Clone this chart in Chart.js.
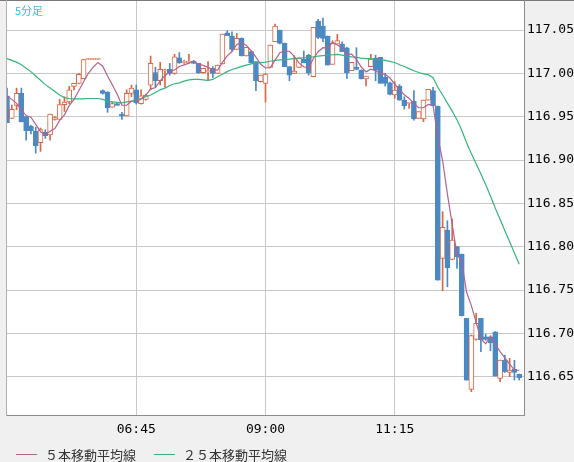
<!DOCTYPE html>
<html lang="ja">
<head>
<meta charset="utf-8">
<title>5分足</title>
<script src="https://cdn.jsdelivr.net/npm/chart.js@4.4.1/dist/chart.umd.min.js"></script>
<style>
html, body { margin: 0; padding: 0; background: #f0f0f0; }
#wrap { position: relative; width: 574px; height: 462px; overflow: hidden; }
#chartBox { position: absolute; left: 0; top: 0; width: 574px; height: 462px; }
#title { position: absolute; left: 15px; top: 2px; font: 11px "Noto Sans CJK JP"; color: #3fb6ef; }
#legend { position: absolute; left: 16px; top: 446px; height: 16px; display: flex; align-items: center;
          font: 13px "Noto Sans CJK JP"; color: #333; }
.item { display: flex; align-items: center; margin-right: 18px; }
.swatch { width: 21px; height: 1px; margin-right: 8px; }
</style>
</head>
<body>
<div id="wrap">
  <div id="chartBox"><canvas id="candleChart"></canvas></div>
  <div id="title">5分足</div>
  <div id="legend"></div>
</div>
<script>
// 5-minute bars, 04:30 .. 13:30 (last slot is still empty)
const times = [
  "04:30","04:35","04:40","04:45","04:50","04:55",
  "05:00","05:05","05:10","05:15","05:20","05:25","05:30","05:35","05:40","05:45","05:50","05:55",
  "06:00","06:05","06:10","06:15","06:20","06:25","06:30","06:35","06:40","06:45","06:50","06:55",
  "07:00","07:05","07:10","07:15","07:20","07:25","07:30","07:35","07:40","07:45","07:50","07:55",
  "08:00","08:05","08:10","08:15","08:20","08:25","08:30","08:35","08:40","08:45","08:50","08:55",
  "09:00","09:05","09:10","09:15","09:20","09:25","09:30","09:35","09:40","09:45","09:50","09:55",
  "10:00","10:05","10:10","10:15","10:20","10:25","10:30","10:35","10:40","10:45","10:50","10:55",
  "11:00","11:05","11:10","11:15","11:20","11:25","11:30","11:35","11:40","11:45","11:50","11:55",
  "12:00","12:05","12:10","12:15","12:20","12:25","12:30","12:35","12:40","12:45","12:50","12:55",
  "13:00","13:05","13:10","13:15","13:20","13:25","13:30"
];
const xTickLabels = ["06:45", "09:00", "11:15"];
const yTicks = [116.65, 116.70, 116.75, 116.80, 116.85, 116.90, 116.95, 117.00, 117.05];
const yMin = 116.6058;
const yMax = 117.0835;

const opens = [
  116.974,116.948,116.963,116.977,116.950,116.939,116.933,116.920,116.932,116.929,
  116.947,116.947,116.964,116.967,116.985,116.9885,116.994,117.016,117.016,117.016,
  116.980,116.978,116.961,116.965,116.953,116.951,116.977,116.981,116.965,116.970,
  116.9865,117.001,116.9915,117.003,117.0046,117.000,117.018,117.0127,117.0127,117.0142,
  117.0115,117.0008,117.002,117.0058,117.000,117.0108,117.0469,117.0431,117.0277,117.0404,
  117.020,117.025,117.0135,116.9904,116.9885,117.0069,117.0365,117.050,117.0346,117.0077,
  117.000,117.0069,117.0162,117.0212,116.9962,117.0604,117.0546,117.0431,117.0104,117.0338,
  117.0338,117.0296,117.0031,117.0069,117.0038,116.9935,117.0077,117.0173,117.0185,116.9954,
  116.9892,116.975,116.9854,116.9692,116.9654,116.968,116.948,116.9473,116.9692,116.980,
  116.9623,116.7865,116.8192,116.7853,116.800,116.7915,116.7173,116.6354,116.693,116.7173,
  116.6961,116.6961,116.7019,116.648,116.6692,116.655,116.6584,116.6527
];
const highs = [
  116.983,116.9635,116.983,116.983,116.950,116.940,116.938,116.937,116.935,116.953,
  116.950,116.970,116.973,116.985,116.9885,117.000,117.016,117.016,117.016,117.016,
  116.981,116.979,116.967,116.965,116.955,116.981,116.9865,116.9865,116.981,116.976,
  117.020,117.007,117.0127,117.005,117.0115,117.022,117.024,117.0154,117.022,117.015,
  117.0115,117.006,117.0135,117.0077,117.0096,117.0454,117.0492,117.048,117.046,117.041,
  117.030,117.026,117.0135,116.998,117.000,117.0327,117.057,117.050,117.035,117.008,
  117.0204,117.018,117.0258,117.022,117.053,117.0623,117.0638,117.0431,117.0377,117.045,
  117.0365,117.030,117.0127,117.0296,117.004,116.997,117.022,117.021,117.0185,117.000,
  116.990,116.9904,116.987,116.973,116.9665,116.980,116.9558,116.9692,116.9815,116.984,
  116.9623,116.8404,116.830,116.832,116.800,116.7915,116.7173,116.698,116.723,116.7173,
  116.699,116.697,116.702,116.6692,116.675,116.6711,116.669,116.653
];
const lows = [
  116.943,116.948,116.958,116.944,116.923,116.930,116.908,116.910,116.925,116.923,
  116.946,116.947,116.956,116.965,116.981,116.988,116.994,117.016,117.016,117.016,
  116.976,116.955,116.961,116.963,116.947,116.951,116.973,116.9646,116.9646,116.969,
  116.981,116.984,116.9865,116.984,116.998,116.999,117.0115,117.0115,117.0115,117.011,
  117.000,117.000,116.992,116.995,117.000,117.0108,117.0435,117.026,117.0277,117.020,
  117.020,117.012,116.980,116.990,116.967,117.0069,117.0365,117.034,117.0077,116.9915,
  117.000,117.0069,117.012,116.998,116.996,117.040,117.0365,117.0096,117.0104,117.0338,
  117.025,116.9942,117.0031,117.004,116.9935,116.9854,117.0077,116.9915,116.9885,116.9854,
  116.975,116.9711,116.969,116.9588,116.9596,116.946,116.948,116.9442,116.969,116.9623,
  116.7615,116.7492,116.7538,116.785,116.775,116.720,116.646,116.6327,116.692,116.679,
  116.692,116.680,116.6507,116.6442,116.655,116.650,116.6461,116.6461
];
const closes = [
  116.943,116.9585,116.977,116.944,116.934,116.934,116.9165,116.935,116.928,116.953,
  116.949,116.964,116.967,116.981,116.9885,116.999,117.016,117.016,117.016,117.016,
  116.977,116.960,116.965,116.963,116.951,116.977,116.983,116.966,116.974,116.975,
  117.0115,116.9915,117.0046,117.004,117.000,117.019,117.012,117.014,117.014,117.0115,
  117.0008,117.0058,117.0025,117.000,117.0096,117.0454,117.0435,117.0277,117.0404,117.020,
  117.030,117.0123,116.9915,116.998,116.9992,117.0327,117.0546,117.0346,117.0077,116.998,
  117.0027,117.0173,117.0123,117.0008,117.053,117.0415,117.0404,117.0096,117.0346,117.0377,
  117.025,117.0008,117.0127,117.0046,116.9935,116.997,117.0165,117.0038,116.9885,116.9885,
  116.9758,116.9808,116.9692,116.9627,116.9665,116.9473,116.9558,116.9692,116.9815,116.9623,
  116.7615,116.8223,116.7757,116.8077,116.7884,116.7204,116.6461,116.6973,116.7115,116.6923,
  116.693,116.6892,116.6507,116.6692,116.6557,116.6577,116.655,116.6488
];
const ma5 = [
  116.974,116.970,116.9654,116.958,116.9513,116.9495,116.9411,116.9327,116.9295,116.9333,
  116.9363,116.9458,116.9522,116.9628,116.9699,116.9799,116.9903,117.0001,117.0071,117.0126,
  117.0082,116.997,116.9868,116.9762,116.9632,116.9632,116.9678,116.968,116.9702,116.975,
  116.9819,116.9836,116.9913,116.9973,117.0023,117.0038,117.0079,117.0098,117.0118,117.0141,
  117.0105,117.0092,117.0069,117.0041,117.0037,117.0127,117.0202,117.0252,117.0333,117.0354,
  117.0323,117.0261,117.0188,117.0104,117.0062,117.0067,117.0152,117.0238,117.0258,117.0255,
  117.0195,117.0121,117.0076,117.0062,117.0172,117.025,117.0296,117.0291,117.0358,117.0328,
  117.0295,117.0215,117.0222,117.0162,117.0073,117.0017,117.0049,117.0031,116.9999,116.9989,
  116.9946,116.9875,116.9806,116.9754,116.971,116.9653,116.9603,116.9603,116.9641,116.9632,
  116.9261,116.8994,116.8607,116.8259,116.7911,116.7829,116.7477,116.732,116.7127,116.6935,
  116.688,116.6967,116.6873,116.6789,116.6716,116.6645,116.6577,116.6573
];
const ma25 = [
  117.017,117.015,117.013,117.010,117.006,117.002,116.997,116.992,116.987,116.983,
  116.979,116.975,116.972,116.971,116.9705,116.9705,116.9705,116.971,116.971,116.971,
  116.970,116.968,116.967,116.9665,116.966,116.967,116.968,116.969,116.971,116.973,
  116.975,116.978,116.981,116.983,116.986,116.988,116.989,116.991,116.9925,116.993,
  116.993,116.9925,116.992,116.993,116.996,116.999,117.002,117.0045,117.006,117.008,
  117.0095,117.011,117.012,117.0125,117.013,117.014,117.015,117.0155,117.016,117.0165,
  117.017,117.0175,117.018,117.0185,117.019,117.020,117.0205,117.021,117.0215,117.022,
  117.021,117.020,117.019,117.0185,117.0175,117.017,117.017,117.016,117.0155,117.015,
  117.0138,117.0125,117.010,117.008,117.0055,117.003,117.001,116.9995,116.9985,116.995,
  116.984,116.975,116.9656,116.9565,116.9465,116.9343,116.920,116.9075,116.8958,116.8838,
  116.8716,116.8585,116.8444,116.8316,116.8183,116.8056,116.7926,116.7798
];

const upColor = '#da6743';
const downColor = '#4b89c3';
const ma5Color = '#b4628f';
const ma25Color = '#35b47c';

const upDown = closes.map((c, i) => c >= opens[i]);

const bgFrame = {
    id: 'bgFrame',
    beforeDraw(chart) {
        const {ctx, chartArea: a} = chart;
        ctx.save();
        ctx.fillStyle = '#ffffff';
        ctx.fillRect(a.left, a.top, a.right - a.left, a.bottom - a.top);
        ctx.restore();
    },
    afterDraw(chart) {
        const {ctx, chartArea: a, width} = chart;
        ctx.save();
        ctx.lineWidth = 1;
        ctx.strokeStyle = '#7a7a7a';
        ctx.beginPath(); ctx.moveTo(0, 0.5); ctx.lineTo(width, 0.5); ctx.stroke();
        ctx.strokeStyle = '#8c8c8c';
        ctx.beginPath();
        ctx.moveTo(a.left, a.bottom + 0.5); ctx.lineTo(a.right + 1, a.bottom + 0.5);
        ctx.moveTo(a.right + 0.5, 0); ctx.lineTo(a.right + 0.5, a.bottom + 1);
        ctx.stroke();
        ctx.strokeStyle = '#b0b0b0';
        ctx.beginPath(); ctx.moveTo(a.left - 0.5, 0); ctx.lineTo(a.left - 0.5, a.bottom + 1); ctx.stroke();
        ctx.restore();
    }
};

const axisFont = { family: 'DejaVu Sans Mono', size: 13 };

const ctx = document.getElementById('candleChart').getContext('2d');
const candleChart = new Chart(ctx, {
    type: 'bar',
    data: {
        labels: times,
        datasets: [
            {
                type: 'line',
                label: '５本移動平均線',
                data: ma5,
                borderColor: ma5Color,
                borderWidth: 1.2,
                pointRadius: 0,
                tension: 0,
                order: 0,
                legend: true
            },
            {
                type: 'line',
                label: '２５本移動平均線',
                data: ma25,
                borderColor: ma25Color,
                borderWidth: 1.2,
                pointRadius: 0,
                tension: 0,
                order: 1,
                legend: true
            },
            {
                label: 'body',
                data: opens.map((o, i) => [o, closes[i]]),
                backgroundColor: upDown.map(u => u ? '#ffffff' : downColor),
                borderColor: upDown.map(u => u ? upColor : downColor),
                borderWidth: 1,
                borderSkipped: false,
                barThickness: 5,
                minBarLength: 1,
                grouped: false,
                order: 2
            },
            {
                label: 'wick',
                data: lows.map((l, i) => [l, highs[i]]),
                backgroundColor: upDown.map(u => u ? upColor : downColor),
                borderWidth: 0,
                barThickness: 1,
                minBarLength: 1,
                grouped: false,
                order: 3
            }
        ]
    },
    options: {
        responsive: true,
        maintainAspectRatio: false,
        animation: false,
        events: [],
        layout: { padding: { left: 7, top: 1, right: 0, bottom: 0 } },
        plugins: {
            legend: { display: false },
            tooltip: { enabled: false }
        },
        scales: {
            x: {
                type: 'category',
                offset: false,
                afterBuildTicks: s => { s.ticks = xTickLabels.map(t => ({ value: times.indexOf(t) })); },
                grid: { offset: false, color: '#c8c8c8', lineWidth: 1, drawTicks: false },
                border: { display: false },
                ticks: { autoSkip: false, maxRotation: 0, minRotation: 0, padding: 7, color: '#000', font: axisFont },
                afterFit: s => { s.height = 47; s.paddingLeft = 0; s.paddingRight = 0; }
            },
            y: {
                position: 'right',
                min: yMin,
                max: yMax,
                afterBuildTicks: s => { s.ticks = yTicks.map(v => ({ value: v })); },
                grid: { color: '#c8c8c8', lineWidth: 1, drawTicks: false },
                border: { display: false },
                ticks: { padding: 3, color: '#000', font: axisFont, callback: v => v.toFixed(2) },
                afterFit: s => { s.width = 50; s.paddingTop = 0; s.paddingBottom = 0; }
            }
        }
    },
    plugins: [bgFrame]
});

// html legend for the two moving averages
const legendBox = document.getElementById('legend');
let html = [];
candleChart.data.datasets.forEach(ds => {
    if (!ds.legend) return;
    html.push('<div class="item">');
    html.push('<span class="swatch" style="background-color:' + ds.borderColor + '"></span>');
    html.push('<span>' + ds.label + '</span>');
    html.push('</div>');
});
legendBox.innerHTML = html.join('');
</script>
</body>
</html>
